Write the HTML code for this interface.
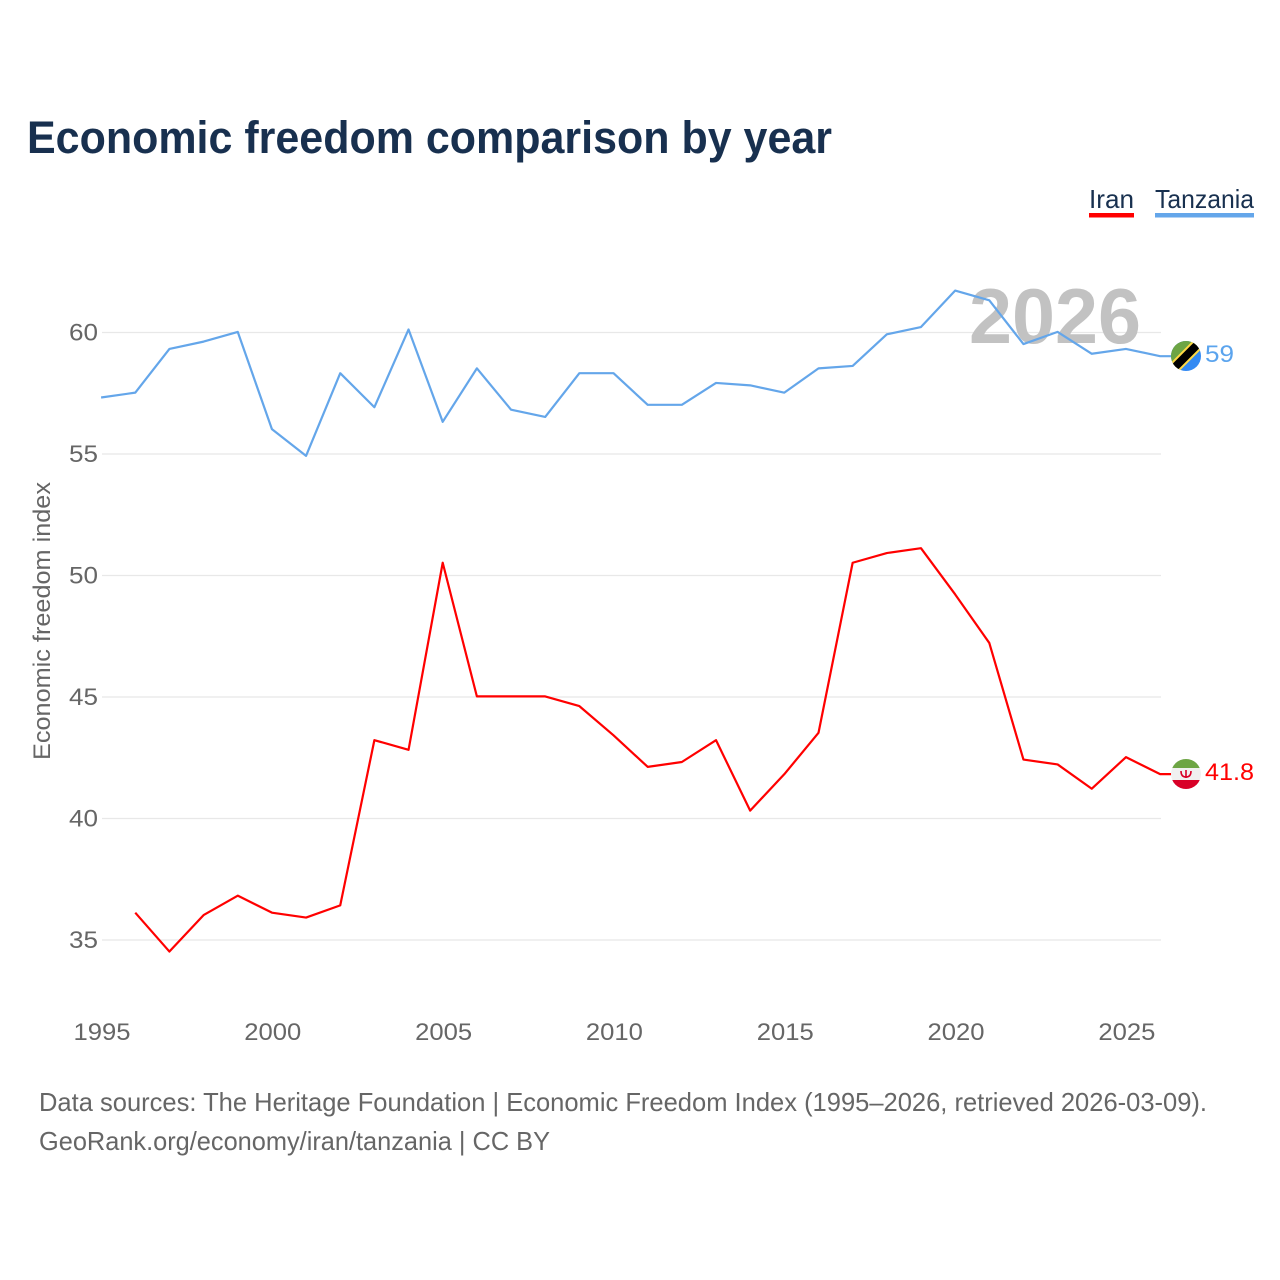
<!DOCTYPE html>
<html lang="en">
<head>
<meta charset="utf-8">
<title>Economic freedom comparison by year</title>
<style>
html,body{margin:0;padding:0;background:#fff;width:1280px;height:1280px;overflow:hidden}
svg{display:block}
text{font-family:"Liberation Sans",sans-serif}
</style>
</head>
<body>
<svg id="chart" width="1280" height="1280" viewBox="0 0 1280 1280" xmlns="http://www.w3.org/2000/svg">
  <defs>
    <clipPath id="tz-clip"><circle cx="1186" cy="356" r="15"/></clipPath>
    <clipPath id="ir-clip"><circle cx="1186" cy="774" r="15"/></clipPath>
  </defs>
  <text x="27" y="153" font-size="45" font-weight="700" fill="#18304f" textLength="805" lengthAdjust="spacingAndGlyphs">Economic freedom comparison by year</text>

  <g>
    <g>
      <text x="1089" y="208" font-size="26" fill="#18304f" textLength="45" lengthAdjust="spacingAndGlyphs">Iran</text>
      <rect x="1089" y="213" width="45" height="4.5" fill="#ff0000"/>
    </g>
    <g>
      <text x="1155" y="208" font-size="26" fill="#18304f" textLength="99" lengthAdjust="spacingAndGlyphs">Tanzania</text>
      <rect x="1155" y="213" width="99" height="4.5" fill="#64a6ea"/>
    </g>
  </g>

  <g id="grid"></g>
  <g id="ylabels"></g>
  <g id="xlabels"></g>
  <text transform="translate(50,621) rotate(-90)" text-anchor="middle" font-size="24" fill="#666666" textLength="278" lengthAdjust="spacingAndGlyphs">Economic freedom index</text>

  <text x="969" y="343" font-size="78" font-weight="700" fill="#c2c2c2" textLength="172" lengthAdjust="spacingAndGlyphs">2026</text>

  <g id="series"></g>

  <g clip-path="url(#tz-clip)">
    <rect x="1170" y="340" width="32" height="32" fill="#338af3"/>
    <polygon points="1170,340 1202,340 1170,372" fill="#6da544"/>
    <line x1="1168" y1="374" x2="1204" y2="338" stroke="#ffda44" stroke-width="12"/>
    <line x1="1168" y1="374" x2="1204" y2="338" stroke="#000000" stroke-width="8"/>
  </g>
  <text id="tz-value" x="1205" y="362" font-size="24" fill="#5ba4ee" textLength="29" lengthAdjust="spacingAndGlyphs"></text>

  <g clip-path="url(#ir-clip)">
    <rect x="1170" y="758" width="32" height="32" fill="#f0f0f0"/>
    <rect x="1170" y="758" width="32" height="10" fill="#6da544"/>
    <rect x="1170" y="780" width="32" height="10" fill="#d80027"/>
    <path d="M1181 771 q0 6 5 6 q5 0 5 -6 M1186 770 v8" fill="none" stroke="#d80027" stroke-width="1.6"/>
  </g>
  <text id="ir-value" x="1205" y="780" font-size="24" fill="#ff0000" textLength="49" lengthAdjust="spacingAndGlyphs"></text>

  <text x="39" y="1111" font-size="26" fill="#666666" textLength="1168" lengthAdjust="spacingAndGlyphs">Data sources: The Heritage Foundation | Economic Freedom Index (1995–2026, retrieved 2026-03-09).</text>
  <text x="39" y="1150" font-size="26" fill="#666666" textLength="511" lengthAdjust="spacingAndGlyphs">GeoRank.org/economy/iran/tanzania | CC BY</text>
</svg>
<script>
const years = [1995,1996,1997,1998,1999,2000,2001,2002,2003,2004,2005,2006,2007,2008,2009,2010,2011,2012,2013,2014,2015,2016,2017,2018,2019,2020,2021,2022,2023,2024,2025,2026];
const tanzaniaValues = [57.3,57.5,59.3,59.6,60.0,56.0,54.9,58.3,56.9,60.1,56.3,58.5,56.8,56.5,58.3,58.3,57.0,57.0,57.9,57.8,57.5,58.5,58.6,59.9,60.2,61.7,61.3,59.5,60.0,59.1,59.3,59.0];
const iranValues = [null,36.1,34.5,36.0,36.8,36.1,35.9,36.4,43.2,42.8,50.5,45.0,45.0,45.0,44.6,43.4,42.1,42.3,43.2,40.3,41.8,43.5,50.5,50.9,51.1,49.2,47.2,42.4,42.2,41.2,42.5,41.8];
const yTicks = [35,40,45,50,55,60];
const xTicks = [1995,2000,2005,2010,2015,2020,2025];
const tanzaniaEndLabel = "59";
const iranEndLabel = "41.8";

const NS = "http://www.w3.org/2000/svg";
function xScale(year){ return 102 + (year - 1995) * (1161 - 102) / 31; }
function yScale(value){ return 940 - (value - 35) * (940 - 332.5) / 25; }
function markX(year){ return xScale(year) - 0.9; }
function markY(value){ return yScale(value) - 0.6; }

const gridGroup = document.getElementById("grid");
const yLabelGroup = document.getElementById("ylabels");
const xLabelGroup = document.getElementById("xlabels");
const seriesGroup = document.getElementById("series");

yTicks.forEach(function(tick){
  const line = document.createElementNS(NS, "line");
  
  
  line.setAttribute("x1", 102);
  line.setAttribute("x2", 1161);
  line.setAttribute("y1", yScale(tick));
  line.setAttribute("y2", yScale(tick));
  line.setAttribute("stroke", "#e8e8e8");
  line.setAttribute("stroke-width", "1.2");
  gridGroup.appendChild(line);

  const label = document.createElementNS(NS, "text");
  
  
  label.setAttribute("x", 69);
  label.setAttribute("y", yScale(tick) + 8);
  label.setAttribute("font-size", "24");
  label.setAttribute("fill", "#666666");
  label.setAttribute("textLength", "29");
  label.setAttribute("lengthAdjust", "spacingAndGlyphs");
  label.textContent = tick;
  yLabelGroup.appendChild(label);
});

xTicks.forEach(function(tick){
  const label = document.createElementNS(NS, "text");
  
  
  label.setAttribute("x", xScale(tick));
  label.setAttribute("y", 1040);
  label.setAttribute("text-anchor", "middle");
  label.setAttribute("font-size", "24");
  label.setAttribute("fill", "#666666");
  label.setAttribute("textLength", "57");
  label.setAttribute("lengthAdjust", "spacingAndGlyphs");
  label.textContent = tick;
  xLabelGroup.appendChild(label);
});

function buildPoints(values){
  const points = [];
  values.forEach(function(value, i){
    if (value !== null) points.push(markX(years[i]).toFixed(2) + "," + markY(value).toFixed(2));
  });
  const lastValue = values[values.length - 1];
  points.push("1171," + markY(lastValue).toFixed(2));
  return points.join(" ");
}

const iranLine = document.createElementNS(NS, "polyline");


iranLine.setAttribute("points", buildPoints(iranValues));
iranLine.setAttribute("fill", "none");
iranLine.setAttribute("stroke", "#ff0000");
iranLine.setAttribute("stroke-width", "2.2");
iranLine.setAttribute("stroke-linejoin", "round");
seriesGroup.appendChild(iranLine);

const tanzaniaLine = document.createElementNS(NS, "polyline");


tanzaniaLine.setAttribute("points", buildPoints(tanzaniaValues));
tanzaniaLine.setAttribute("fill", "none");
tanzaniaLine.setAttribute("stroke", "#64a6ea");
tanzaniaLine.setAttribute("stroke-width", "2.2");
tanzaniaLine.setAttribute("stroke-linejoin", "round");
seriesGroup.appendChild(tanzaniaLine);

document.getElementById("tz-value").textContent = tanzaniaEndLabel;
document.getElementById("ir-value").textContent = iranEndLabel;
</script>
</body>
</html>
